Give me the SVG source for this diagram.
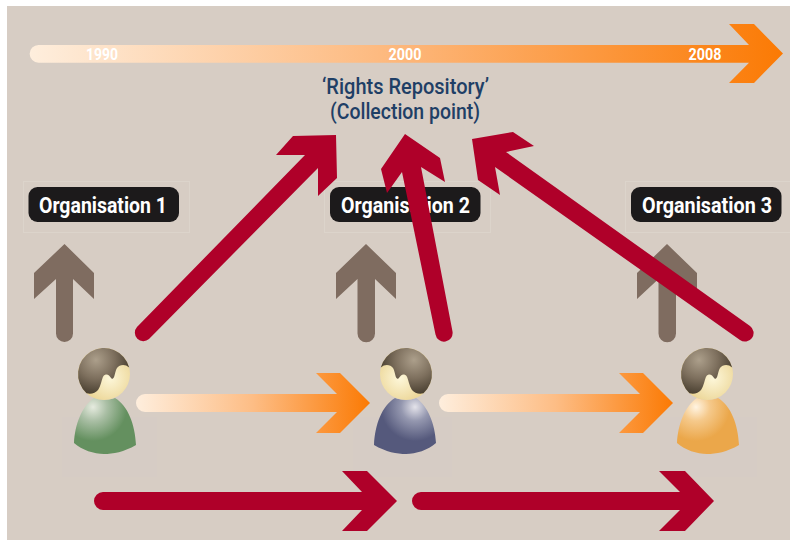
<svg xmlns="http://www.w3.org/2000/svg" xmlns:xlink="http://www.w3.org/1999/xlink" width="790" height="540" viewBox="0 0 790 540">
<style>
.halo{fill:none;stroke:#dcd4cb;stroke-width:1}
.pill{fill:#1c1a1b}
.org{font-family:"Roboto","Liberation Sans",sans-serif;font-weight:700;font-size:21.500px;fill:#fff}
.year{font-family:"Roboto","Liberation Sans",sans-serif;font-weight:700;font-size:17px;fill:#fff;text-anchor:middle}
.title{font-family:"Roboto","Liberation Sans",sans-serif;font-weight:500;font-size:21.500px;fill:#1f3f66}
.grey{fill:#7f6c60}
.red{fill:#af0029}
.shadow{fill:#d6ccc5}
</style>
<defs>
<linearGradient id="gBar" gradientUnits="userSpaceOnUse" x1="30" y1="0" x2="783" y2="0">
<stop offset="0" stop-color="#feeedd"/><stop offset="0.5" stop-color="#fdb679"/><stop offset="1" stop-color="#fb7a04"/>
</linearGradient>
<linearGradient id="gFlow" x1="0" y1="0" x2="1" y2="0">
<stop offset="0" stop-color="#feeedd"/><stop offset="0.5" stop-color="#fdbd85"/><stop offset="1" stop-color="#fb7a04"/>
</linearGradient>
<radialGradient id="gHair" gradientUnits="userSpaceOnUse" cx="-8" cy="-14" r="34">
<stop offset="0" stop-color="#ac9f8b"/><stop offset="0.55" stop-color="#7d6f5d"/><stop offset="1" stop-color="#4b4132"/>
</radialGradient>
<radialGradient id="gSkin" gradientUnits="userSpaceOnUse" cx="6" cy="4" r="26">
<stop offset="0" stop-color="#fdf7da"/><stop offset="1" stop-color="#ecd697"/>
</radialGradient>
<radialGradient id="gGreen" gradientUnits="userSpaceOnUse" cx="-11" cy="33" r="40">
<stop offset="0" stop-color="#e6ebdf"/><stop offset="0.35" stop-color="#aabfa5"/><stop offset="0.85" stop-color="#64905f"/><stop offset="1" stop-color="#64905f"/>
</radialGradient>
<radialGradient id="gBlue" gradientUnits="userSpaceOnUse" cx="-9" cy="33" r="40">
<stop offset="0" stop-color="#e4e3ea"/><stop offset="0.35" stop-color="#9497af"/><stop offset="0.85" stop-color="#55597c"/><stop offset="1" stop-color="#55597c"/>
</radialGradient>
<radialGradient id="gAmber" gradientUnits="userSpaceOnUse" cx="-11" cy="33" r="40">
<stop offset="0" stop-color="#fff4e2"/><stop offset="0.35" stop-color="#f5c98b"/><stop offset="0.85" stop-color="#eba74a"/><stop offset="1" stop-color="#eba74a"/>
</radialGradient>
<g id="head">
<circle cx="0" cy="0" r="26" fill="url(#gSkin)"/>
<path d="M-17.500 19.200C-13 20.500-8.500 19-6 16C-3 12-2.500 5-0.500 2C1 0 3.500 0 5 1.500C6.500 3 7.500 5.500 9 4.500C11 3 11 -3 13 -6C15.500 -9.500 21 -10.500 25.200 -6.500A26 26 0 1 0 -17.500 19.200Z" fill="url(#gHair)"/>
</g>
<path id="torso" d="M-10 24C-5 26 6 26 11 24C24 32 31 50 32 71C20 78 9 80 0 80C-10 80-22 76-30 69C-29 50-22 32-10 24Z"/>
</defs>

<rect x="7" y="6" width="783" height="534" fill="#d7cdc4"/>

<g id="timeline">
<path d="M38.500 45H749L729 24H754L783 53.500L754 83H729L749 62.700H38.500A8.850 8.850 0 0 1 38.500 45Z" fill="url(#gBar)"/>
<text class="year" x="102" y="60" textLength="32" lengthAdjust="spacingAndGlyphs">1990</text>
<text class="year" x="405" y="60" textLength="33" lengthAdjust="spacingAndGlyphs">2000</text>
<text class="year" x="705" y="60" textLength="33" lengthAdjust="spacingAndGlyphs">2008</text>
</g>

<g id="rights-repository">
<text class="title" x="322" y="94" textLength="167" lengthAdjust="spacingAndGlyphs">‘Rights Repository’</text>
<text class="title" x="330" y="119" textLength="150" lengthAdjust="spacingAndGlyphs">(Collection point)</text>
</g>

<g id="organisation-1">
<rect class="halo" x="23.500" y="181.500" width="166" height="51"/>
<rect class="pill" x="28.500" y="187" width="150.500" height="35" rx="9"/>
<text class="org" x="39" y="213" textLength="128" lengthAdjust="spacingAndGlyphs">Organisation 1</text>
</g>
<g id="organisation-2">
<rect class="halo" x="324.500" y="181.500" width="166" height="51"/>
<rect class="pill" x="330" y="187" width="150.500" height="35" rx="9"/>
<text class="org" x="341" y="213" textLength="129" lengthAdjust="spacingAndGlyphs">Organisation 2</text>
</g>
<g id="organisation-3">
<rect class="halo" x="625.500" y="181.500" width="166" height="51"/>
<rect class="pill" x="631" y="187" width="150.500" height="35" rx="9"/>
<text class="org" x="642" y="213" textLength="130" lengthAdjust="spacingAndGlyphs">Organisation 3</text>
</g>

<rect class="shadow" x="62" y="417" width="95" height="60"/>
<rect class="shadow" x="353" y="417" width="99" height="60"/>
<rect class="shadow" x="660" y="417" width="97" height="60"/>

<g id="connectors">
<path class="grey" d="M64.500 244L94 273V299L73 279V333.500A8.500 8.500 0 0 1 56 333.500V279L34 299V273Z"/>
<path class="grey" d="M366 244L396 273V299L375 279V333.500A8.500 8.500 0 0 1 357.500 333.500V279L336 299V273Z"/>
<path class="grey" d="M667 244L697 273V299L676 279V333.500A8.500 8.500 0 0 1 658.500 333.500V279L637 299V273Z"/>

<path fill="url(#gFlow)" d="M145 394H337L316 373H340L370 403L340 433H316L337 412H145A9 9 0 0 1 145 394Z"/>
<path fill="url(#gFlow)" d="M448 394H640L619 373H643L673 403L643 433H619L640 412H448A9 9 0 0 1 448 394Z"/>

<path class="red" d="M103 492H362L342 471H367L397 501L367 531H342L362 510H103A9 9 0 0 1 103 492Z"/>
<path class="red" d="M421 492H680L659 471H685L714 501L685 531H659L680 510H421A9 9 0 0 1 421 492Z"/>

<path class="red" d="M137 327L305 155H276L293 136L336 135L337 178L318 196V168L149 339A8.500 8.500 0 0 1 137 327Z"/>
<path class="red" d="M435.500 334.500L402 172L387 193L381 169L405 134L440 158L445 182L421 167L452.500 331.500A8.500 8.500 0 0 1 435.500 334.500Z"/>
<path class="red" d="M750 326L506 152L534 146L513 132L472 139L478 180L500 195L495 167L740 340A8.500 8.500 0 0 0 750 326Z"/>
</g>

<g id="person-1">
<use xlink:href="#torso" href="#torso" transform="translate(104,374)" fill="url(#gGreen)"/>
<use xlink:href="#head" href="#head" transform="translate(104,374)"/>
</g>
<g id="person-2">
<use xlink:href="#torso" href="#torso" transform="translate(406,374) scale(-1,1)" fill="url(#gBlue)"/>
<use xlink:href="#head" href="#head" transform="translate(406,374) scale(-1,1)"/>
</g>
<g id="person-3">
<use xlink:href="#torso" href="#torso" transform="translate(707,374)" fill="url(#gAmber)"/>
<use xlink:href="#head" href="#head" transform="translate(707,374)"/>
</g>
</svg>
